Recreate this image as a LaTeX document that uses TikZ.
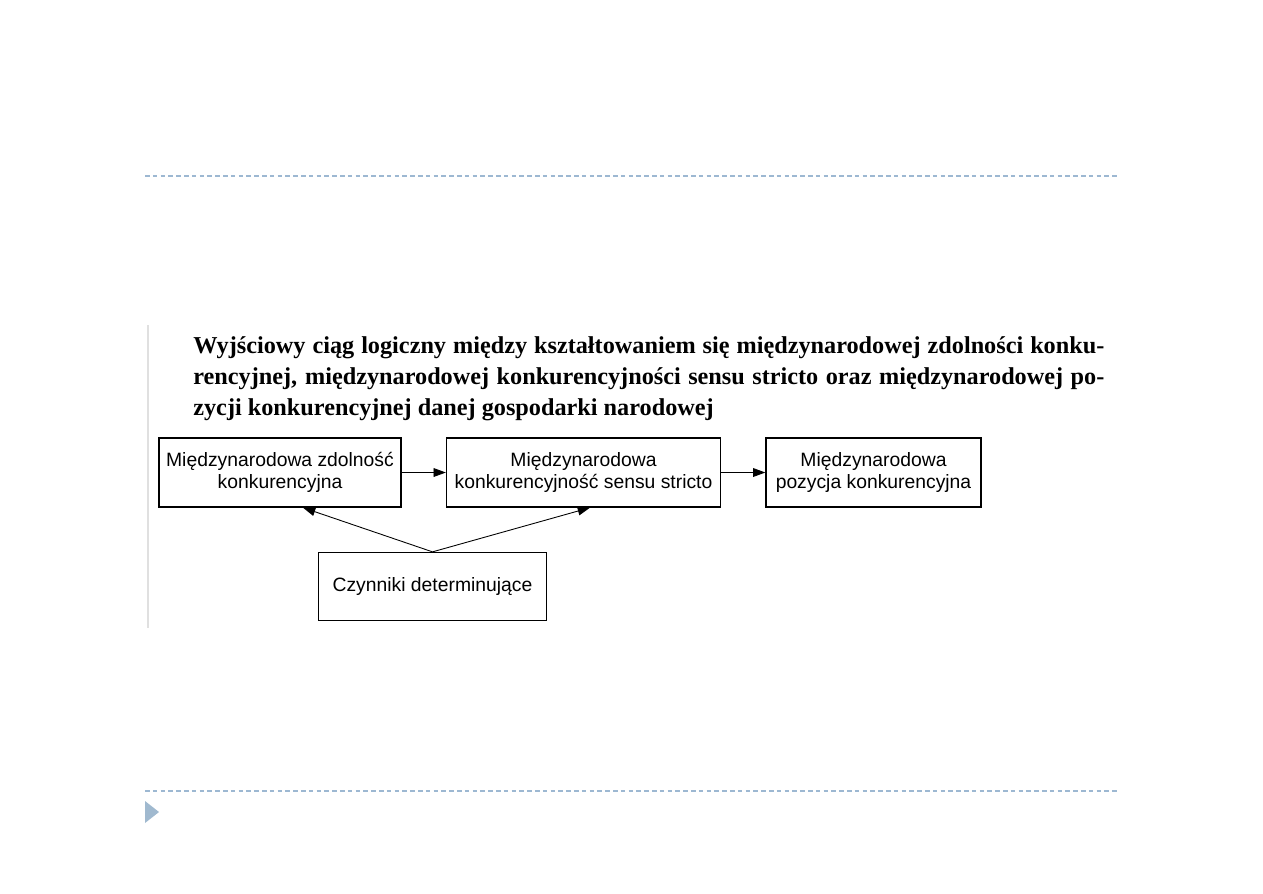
\documentclass[tikz,border=0pt]{standalone}
\usepackage{fontspec}
\setmainfont{Liberation Serif}
\setsansfont{Liberation Sans}
\usetikzlibrary{arrows.meta, positioning}

\newlength{\px}
\setlength{\px}{0.02cm}
\definecolor{rulecol}{HTML}{9DB8D2}
\definecolor{markcol}{HTML}{A0B9CF}

\tikzset{
  box/.style={draw, line width=0.75pt, align=center, inner sep=0pt,
    font=\sffamily\fontsize{11}{12.2}\selectfont},
  link/.style={-{Triangle[length=7pt, width=5pt]}, line width=0.5pt}
}

\begin{document}
\begin{tikzpicture}[x=0.02cm, y=-0.02cm]
    \useasboundingbox (0,0) rectangle (1263,893);

    % Slide rules and bullet
    \draw[rulecol, line width=0.7pt, dash pattern=on 4.5\px off 3.3\px] (145,176) -- (1117,176);
    \draw[rulecol, line width=0.7pt, dash pattern=on 4.5\px off 3.3\px] (145,791) -- (1117,791);
    \fill[markcol] (145,801) -- (159,812) -- (145,823) -- cycle;

    % Edge of the pasted figure
    \draw[black!12, line width=0.6pt] (148,325) -- (148,628);

    % Title
    \node[anchor=north west, inner sep=0pt, align=left,
          font=\bfseries\fontsize{13.8}{17.6}\selectfont] (title) at (193,336)
        {\makebox[911\px][s]{Wyjściowy ciąg logiczny między kształtowaniem się międzynarodowej zdolności konku-}\\
         \makebox[911\px][s]{rencyjnej, międzynarodowej konkurencyjności sensu stricto oraz międzynarodowej po-}\\
         zycji konkurencyjnej danej gospodarki narodowej};

    % Boxes
    \node[box, minimum width=242\px, minimum height=69\px] (zdol) at (280,472.5)
        {Międzynarodowa zdolność\\konkurencyjna};
    \node[box, minimum width=274\px, minimum height=69\px] (konk) at (583.5,472.5)
        {Międzynarodowa\\konkurencyjność sensu stricto};
    \node[box, minimum width=215\px, minimum height=69\px] (pozy) at (873.5,472.5)
        {Międzynarodowa\\pozycja konkurencyjna};
    \node[box, minimum width=228\px, minimum height=68\px] (czyn) at (432.5,586.5)
        {Czynniki determinujące};

    % Links
    \draw[link] (zdol) -- (konk);
    \draw[link] (konk) -- (pozy);
    \draw[link] (czyn.north) -- ([xshift=23\px]zdol.south);
    \draw[link] (czyn.north) -- ([xshift=6.5\px]konk.south);
\end{tikzpicture}
\end{document}
